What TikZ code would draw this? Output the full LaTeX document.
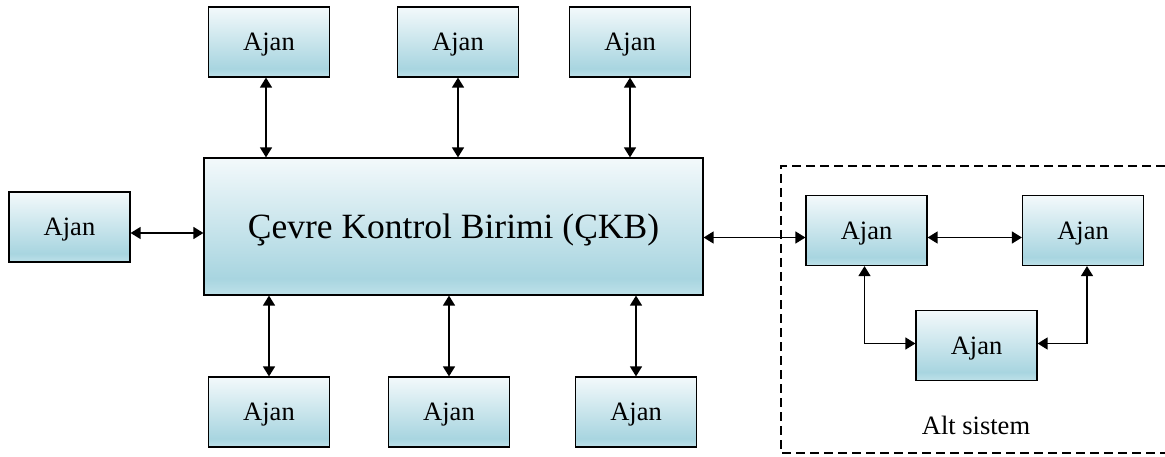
\documentclass[tikz,border=0pt]{standalone}
\usepackage{fontspec}
\setmainfont{Liberation Serif}
\usetikzlibrary{arrows.meta,calc}

\definecolor{fillTop}{RGB}{243,249,251}
\definecolor{fillMid}{RGB}{168,213,224}
\definecolor{fillBot}{RGB}{190,225,233}
\pgfdeclareverticalshading{agentfill}{100bp}{%
  color(0bp)=(fillBot); color(25bp)=(fillBot); color(31bp)=(fillMid);
  color(75bp)=(fillTop); color(100bp)=(fillTop)}

\tikzset{
  agent/.style={draw=black, line width=1.2pt, shading=agentfill,
    minimum width=121pt, minimum height=70pt, inner sep=0pt, text depth=0pt,
    font=\fontsize{26.5}{30}\selectfont},
  unit/.style={agent, minimum width=499pt, minimum height=137pt,
    font=\fontsize{35.5}{42}\selectfont},
  link/.style={line width=1.4pt, {Triangle[length=10pt,width=12pt]}-{Triangle[length=10pt,width=12pt]}},
  groupline/.style={line width=1.3pt, dash pattern=on 9pt off 5pt}
}

\begin{document}
\begin{tikzpicture}[x=1pt,y=-1pt]
  \useasboundingbox (0,0) rectangle (1165,457);

  % central control unit
  \node[unit] (ckb) at (453.5,226.5) {Çevre Kontrol Birimi (ÇKB)};

  % agents around the unit
  \node[agent] (t1) at (269,42) {Ajan};
  \node[agent] (t2) at (458,42) {Ajan};
  \node[agent] (t3) at (630,42) {Ajan};
  \node[agent] (lf) at (69.5,227) {Ajan};
  \node[agent] (b1) at (269,412) {Ajan};
  \node[agent] (b2) at (449,412) {Ajan};
  \node[agent] (b3) at (636,412) {Ajan};

  % subsystem agents
  \node[agent] (sa) at (866.5,230.5) {Ajan};
  \node[agent] (sb) at (1083,230.5) {Ajan};
  \node[agent] (sc) at (976.5,345.5) {Ajan};

  % subsystem frame (open on the right)
  \draw[groupline] (1165,166) -| (781,453) -- (1165,453);
  \node[font=\fontsize{26.5}{30}\selectfont] (alt) at (976,425) {Alt sistem};

  % links to the control unit
  \draw[link] ([xshift=-3pt]t1.south) -- ([xshift=-3pt]t1.south |- ckb.north);
  \draw[link] (t2.south) -- (t2.south |- ckb.north);
  \draw[link] (t3.south) -- (t3.south |- ckb.north);
  \draw[link] ([yshift=-6pt]lf.east) -- ([yshift=-6pt]lf.east -| ckb.west);
  \draw[link] (b1.north) -- (b1.north |- ckb.south);
  \draw[link] (b2.north) -- (b2.north |- ckb.south);
  \draw[link] (b3.north) -- (b3.north |- ckb.south);
  \draw[link] ([yshift=-7pt]sa.west -| ckb.east) -- ([yshift=-7pt]sa.west);

  % links inside the subsystem
  \draw[link] ([yshift=-7pt]sa.east) -- ([yshift=-7pt]sa.east -| sb.west);
  \draw[link] ([xshift=-2pt]sa.south) |- ([yshift=2pt]sc.west);
  \draw[link] ([xshift=4pt]sb.south) |- ([yshift=2pt]sc.east);
\end{tikzpicture}
\end{document}
